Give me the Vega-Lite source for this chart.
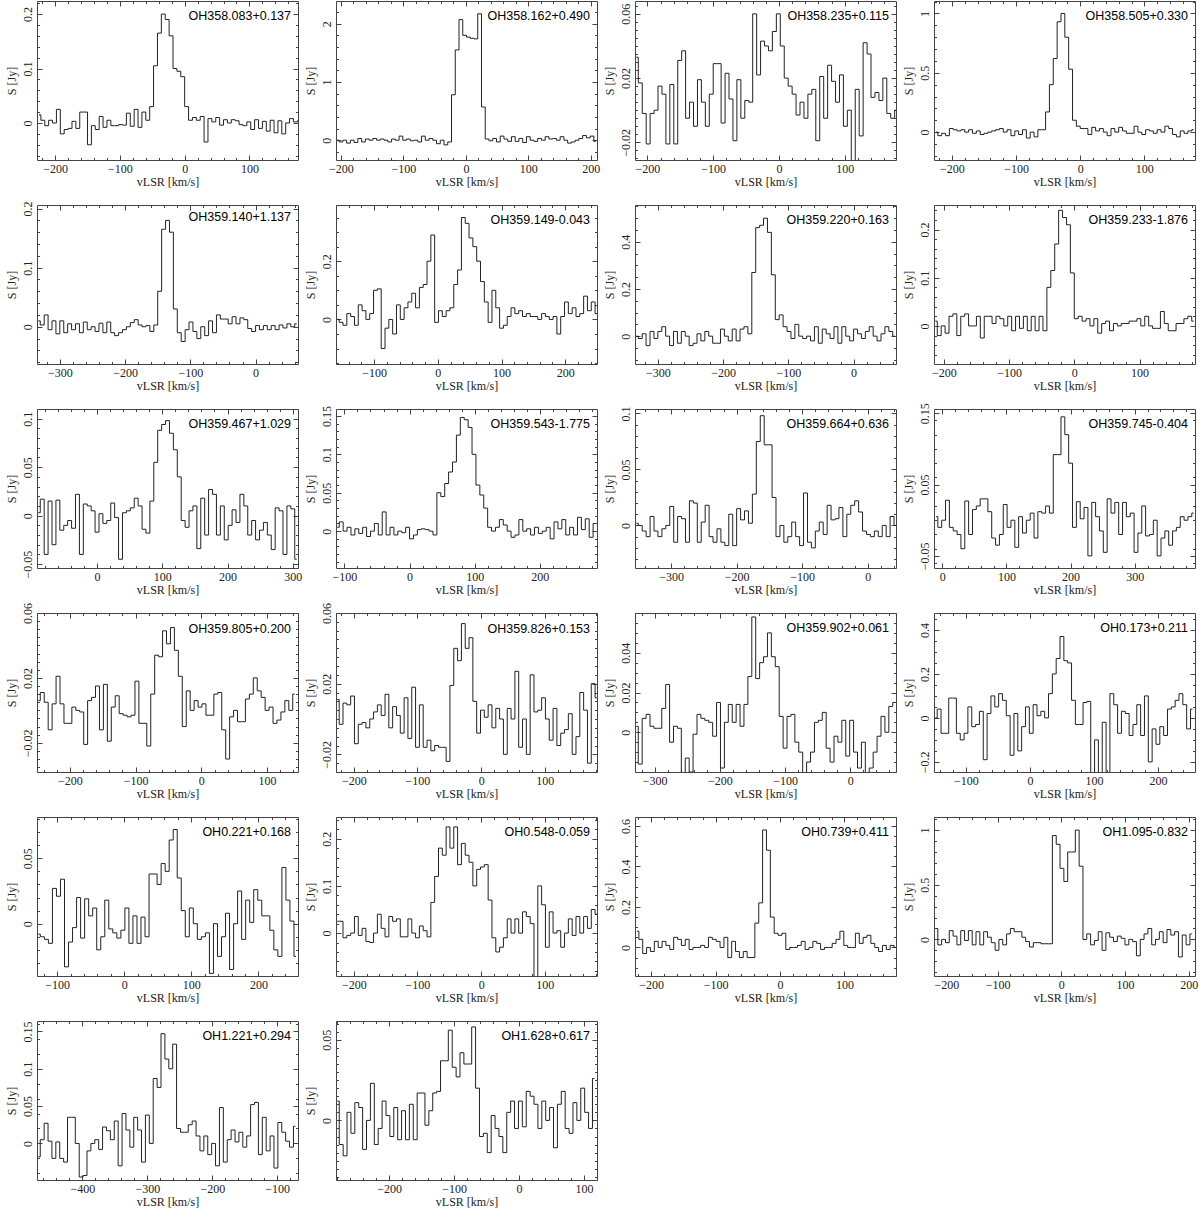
{
"$schema": "https://vega.github.io/schema/vega-lite/v6.json",
"padding": {"left": 4, "top": 0, "right": 0, "bottom": 0},
"background": "white",
"config": {
 "numberFormat": "~r",
 "view": {"stroke": "#444", "strokeWidth": 1},
 "axis": {"domain": false, "grid": false, "tickSize": -5, "tickColor": "#444", "tickCount": 4, "labelFont": "Liberation Serif", "labelFontSize": 12, "labelColor": "#222", "titleFont": "Liberation Serif", "titleFontSize": 12, "titleFontWeight": "normal", "titleColor": "#222", "labelPadding": 8},
 "axisX": {"titlePadding": 2},
 "axisY": {"labelAngle": -90, "labelAlign": "center", "labelBaseline": "bottom", "titlePadding": 3},
 "title": {"anchor": "end", "offset": -22, "dx": -7, "font": "Liberation Sans", "fontSize": 12.5, "fontWeight": "normal", "color": "#000", "frame": "group"},
 "line": {"color": "#222", "strokeWidth": 1}
},
"columns": 4,
"spacing": {"row": 45, "column": 38},
"bounds": "flush",
"datasets": {
"p1": [{"v":-225,"s":0.015},{"v":-219,"s":0.005},{"v":-213,"s":-0.005},{"v":-207,"s":0.005},{"v":-201,"s":0.0},{"v":-195,"s":0.025},{"v":-189,"s":-0.02},{"v":-183,"s":-0.012},{"v":-177,"s":-0.01},{"v":-171,"s":0.003},{"v":-165,"s":-0.01},{"v":-159,"s":0.02},{"v":-153,"s":0.02},{"v":-147,"s":-0.04},{"v":-141,"s":-0.005},{"v":-135,"s":-0.012},{"v":-129,"s":0.012},{"v":-123,"s":-0.008},{"v":-117,"s":0.005},{"v":-111,"s":-0.005},{"v":-105,"s":-0.005},{"v":-99,"s":-0.003},{"v":-93,"s":-0.004},{"v":-87,"s":0.018},{"v":-81,"s":-0.006},{"v":-75,"s":0.025},{"v":-69,"s":-0.008},{"v":-63,"s":0.02},{"v":-57,"s":0.005},{"v":-51,"s":0.03},{"v":-45,"s":0.105},{"v":-39,"s":0.165},{"v":-33,"s":0.2},{"v":-27,"s":0.19},{"v":-21,"s":0.16},{"v":-15,"s":0.1},{"v":-9,"s":0.095},{"v":-3,"s":0.085},{"v":3,"s":0.03},{"v":9,"s":0.005},{"v":15,"s":0.01},{"v":21,"s":0.005},{"v":27,"s":0.012},{"v":33,"s":-0.035},{"v":39,"s":0.008},{"v":45,"s":0.002},{"v":51,"s":0.01},{"v":57,"s":-0.004},{"v":63,"s":0.006},{"v":69,"s":0.0},{"v":75,"s":0.006},{"v":81,"s":0.004},{"v":87,"s":-0.003},{"v":93,"s":-0.005},{"v":99,"s":0.002},{"v":105,"s":-0.012},{"v":111,"s":0.006},{"v":117,"s":-0.01},{"v":123,"s":0.003},{"v":129,"s":-0.015},{"v":135,"s":0.005},{"v":141,"s":-0.018},{"v":147,"s":0.004},{"v":153,"s":-0.02},{"v":159,"s":0.0},{"v":165,"s":0.008},{"v":171,"s":0.002},{"v":177,"s":0.004}],
"p2": [{"v":-206,"s":0.0},{"v":-200,"s":-0.03},{"v":-194,"s":0.0},{"v":-188,"s":-0.05},{"v":-182,"s":0.0},{"v":-176,"s":-0.04},{"v":-170,"s":0.03},{"v":-164,"s":-0.03},{"v":-158,"s":0.02},{"v":-152,"s":0.0},{"v":-146,"s":0.03},{"v":-140,"s":0.0},{"v":-134,"s":0.02},{"v":-128,"s":0.0},{"v":-122,"s":-0.03},{"v":-116,"s":0.02},{"v":-110,"s":0.0},{"v":-104,"s":0.07},{"v":-98,"s":0.0},{"v":-92,"s":0.02},{"v":-86,"s":-0.01},{"v":-80,"s":0.0},{"v":-74,"s":-0.03},{"v":-68,"s":0.07},{"v":-62,"s":0.0},{"v":-56,"s":0.03},{"v":-50,"s":0.0},{"v":-44,"s":-0.06},{"v":-38,"s":0.0},{"v":-32,"s":-0.08},{"v":-26,"s":-0.03},{"v":-20,"s":0.78},{"v":-14,"s":1.55},{"v":-8,"s":2.07},{"v":-2,"s":1.8},{"v":4,"s":1.77},{"v":10,"s":1.75},{"v":16,"s":1.74},{"v":22,"s":2.17},{"v":28,"s":0.57},{"v":34,"s":0.02},{"v":40,"s":-0.01},{"v":46,"s":0.03},{"v":52,"s":-0.03},{"v":58,"s":0.07},{"v":64,"s":0.02},{"v":70,"s":-0.02},{"v":76,"s":0.06},{"v":82,"s":-0.02},{"v":88,"s":0.03},{"v":94,"s":-0.04},{"v":100,"s":0.06},{"v":106,"s":0.0},{"v":112,"s":-0.02},{"v":118,"s":0.03},{"v":124,"s":0.0},{"v":130,"s":0.06},{"v":136,"s":0.02},{"v":142,"s":0.03},{"v":148,"s":0.0},{"v":154,"s":0.06},{"v":160,"s":0.0},{"v":166,"s":-0.05},{"v":172,"s":-0.03},{"v":178,"s":0.0},{"v":184,"s":0.03},{"v":190,"s":0.08},{"v":196,"s":0.04},{"v":202,"s":0.07},{"v":208,"s":-0.02}],
"p3": [{"v":-217,"s":0.033},{"v":-211,"s":0.017},{"v":-205,"s":-0.002},{"v":-199,"s":-0.021},{"v":-193,"s":-0.002},{"v":-187,"s":0.0},{"v":-181,"s":0.015},{"v":-175,"s":0.01},{"v":-169,"s":-0.021},{"v":-163,"s":0.016},{"v":-157,"s":-0.021},{"v":-151,"s":0.031},{"v":-145,"s":0.037},{"v":-139,"s":-0.005},{"v":-133,"s":0.005},{"v":-127,"s":-0.01},{"v":-121,"s":0.019},{"v":-115,"s":0.005},{"v":-109,"s":-0.01},{"v":-103,"s":0.01},{"v":-97,"s":0.029},{"v":-91,"s":0.029},{"v":-85,"s":-0.008},{"v":-79,"s":0.023},{"v":-73,"s":0.007},{"v":-67,"s":-0.019},{"v":-61,"s":0.019},{"v":-55,"s":-0.005},{"v":-49,"s":0.006},{"v":-43,"s":0.005},{"v":-37,"s":0.06},{"v":-31,"s":0.022},{"v":-25,"s":0.043},{"v":-19,"s":0.04},{"v":-13,"s":0.037},{"v":-7,"s":0.049},{"v":-1,"s":0.06},{"v":5,"s":0.04},{"v":11,"s":0.02},{"v":17,"s":0.015},{"v":23,"s":0.01},{"v":29,"s":-0.003},{"v":35,"s":0.005},{"v":41,"s":-0.005},{"v":47,"s":0.01},{"v":53,"s":0.013},{"v":59,"s":-0.019},{"v":65,"s":0.021},{"v":71,"s":-0.005},{"v":77,"s":0.028},{"v":83,"s":0.018},{"v":89,"s":0.005},{"v":95,"s":0.022},{"v":101,"s":-0.01},{"v":107,"s":0.0},{"v":113,"s":-0.045},{"v":119,"s":0.013},{"v":125,"s":-0.016},{"v":131,"s":0.042},{"v":137,"s":0.035},{"v":143,"s":0.008},{"v":149,"s":0.011},{"v":155,"s":0.006},{"v":161,"s":0.02},{"v":167,"s":-0.002},{"v":173,"s":-0.005},{"v":179,"s":0.0}],
"p4": [{"v":-225,"s":0.0},{"v":-219,"s":-0.03},{"v":-213,"s":-0.01},{"v":-207,"s":-0.03},{"v":-201,"s":0.03},{"v":-195,"s":0.02},{"v":-189,"s":0.01},{"v":-183,"s":0.02},{"v":-177,"s":0.0},{"v":-171,"s":0.02},{"v":-165,"s":-0.01},{"v":-159,"s":0.01},{"v":-153,"s":-0.02},{"v":-147,"s":-0.01},{"v":-141,"s":0.0},{"v":-135,"s":0.01},{"v":-129,"s":0.02},{"v":-123,"s":0.03},{"v":-117,"s":0.0},{"v":-111,"s":0.02},{"v":-105,"s":-0.03},{"v":-99,"s":0.01},{"v":-93,"s":-0.02},{"v":-87,"s":0.02},{"v":-81,"s":-0.05},{"v":-75,"s":0.0},{"v":-69,"s":-0.04},{"v":-63,"s":0.02},{"v":-57,"s":0.02},{"v":-51,"s":0.17},{"v":-45,"s":0.4},{"v":-39,"s":0.62},{"v":-33,"s":0.93},{"v":-27,"s":1.0},{"v":-21,"s":0.8},{"v":-15,"s":0.53},{"v":-9,"s":0.1},{"v":-3,"s":0.05},{"v":3,"s":0.03},{"v":9,"s":0.03},{"v":15,"s":-0.02},{"v":21,"s":0.04},{"v":27,"s":0.01},{"v":33,"s":0.03},{"v":39,"s":0.0},{"v":45,"s":-0.03},{"v":51,"s":0.03},{"v":57,"s":0.0},{"v":63,"s":0.04},{"v":69,"s":0.01},{"v":75,"s":-0.01},{"v":81,"s":-0.01},{"v":87,"s":0.05},{"v":93,"s":0.0},{"v":99,"s":-0.02},{"v":105,"s":0.02},{"v":111,"s":0.01},{"v":117,"s":-0.01},{"v":123,"s":0.02},{"v":129,"s":0.0},{"v":135,"s":0.05},{"v":141,"s":0.03},{"v":147,"s":-0.02},{"v":153,"s":-0.04},{"v":159,"s":0.01},{"v":165,"s":-0.01},{"v":171,"s":0.01},{"v":177,"s":0.02}],
"p5": [{"v":-333,"s":0.01},{"v":-327,"s":0.003},{"v":-321,"s":0.02},{"v":-315,"s":-0.005},{"v":-309,"s":0.01},{"v":-303,"s":-0.012},{"v":-297,"s":0.01},{"v":-291,"s":-0.01},{"v":-285,"s":0.005},{"v":-279,"s":-0.005},{"v":-273,"s":0.005},{"v":-267,"s":-0.01},{"v":-261,"s":0.008},{"v":-255,"s":-0.005},{"v":-249,"s":0.0},{"v":-243,"s":-0.008},{"v":-237,"s":0.006},{"v":-231,"s":-0.01},{"v":-225,"s":0.008},{"v":-219,"s":-0.01},{"v":-213,"s":-0.015},{"v":-207,"s":-0.01},{"v":-201,"s":-0.005},{"v":-195,"s":0.0},{"v":-189,"s":0.007},{"v":-183,"s":0.012},{"v":-177,"s":0.003},{"v":-171,"s":0.0},{"v":-165,"s":0.002},{"v":-159,"s":-0.008},{"v":-153,"s":0.003},{"v":-147,"s":0.06},{"v":-141,"s":0.165},{"v":-135,"s":0.18},{"v":-129,"s":0.16},{"v":-123,"s":0.03},{"v":-117,"s":-0.01},{"v":-111,"s":-0.025},{"v":-105,"s":-0.005},{"v":-99,"s":0.008},{"v":-93,"s":-0.008},{"v":-87,"s":-0.02},{"v":-81,"s":0.0},{"v":-75,"s":-0.015},{"v":-69,"s":0.01},{"v":-63,"s":-0.01},{"v":-57,"s":0.02},{"v":-51,"s":0.013},{"v":-45,"s":0.013},{"v":-39,"s":0.005},{"v":-33,"s":0.017},{"v":-27,"s":0.005},{"v":-21,"s":0.015},{"v":-15,"s":0.012},{"v":-9,"s":-0.003},{"v":-3,"s":-0.008},{"v":3,"s":0.002},{"v":9,"s":-0.005},{"v":15,"s":0.002},{"v":21,"s":-0.005},{"v":27,"s":0.002},{"v":33,"s":-0.005},{"v":39,"s":0.003},{"v":45,"s":-0.002},{"v":51,"s":0.005},{"v":57,"s":0.0},{"v":63,"s":0.005}],
"p6": [{"v":-158,"s":0.0},{"v":-152,"s":-0.01},{"v":-146,"s":-0.02},{"v":-140,"s":0.02},{"v":-134,"s":0.01},{"v":-128,"s":-0.02},{"v":-122,"s":0.05},{"v":-116,"s":0.03},{"v":-110,"s":0.0},{"v":-104,"s":0.02},{"v":-98,"s":0.1},{"v":-92,"s":0.105},{"v":-86,"s":-0.1},{"v":-80,"s":-0.03},{"v":-74,"s":0.0},{"v":-68,"s":-0.05},{"v":-62,"s":0.05},{"v":-56,"s":0.0},{"v":-50,"s":0.04},{"v":-44,"s":0.06},{"v":-38,"s":0.09},{"v":-32,"s":0.04},{"v":-26,"s":0.11},{"v":-20,"s":0.12},{"v":-14,"s":0.2},{"v":-8,"s":0.29},{"v":-2,"s":-0.01},{"v":4,"s":0.03},{"v":10,"s":0.01},{"v":16,"s":0.03},{"v":22,"s":0.04},{"v":28,"s":0.12},{"v":34,"s":0.17},{"v":40,"s":0.35},{"v":46,"s":0.33},{"v":52,"s":0.28},{"v":58,"s":0.25},{"v":64,"s":0.2},{"v":70,"s":0.13},{"v":76,"s":0.06},{"v":82,"s":-0.01},{"v":88,"s":0.1},{"v":94,"s":0.04},{"v":100,"s":-0.03},{"v":106,"s":-0.02},{"v":112,"s":0.01},{"v":118,"s":0.04},{"v":124,"s":0.02},{"v":130,"s":0.03},{"v":136,"s":0.01},{"v":142,"s":0.02},{"v":148,"s":0.01},{"v":154,"s":0.01},{"v":160,"s":0.0},{"v":166,"s":0.02},{"v":172,"s":0.01},{"v":178,"s":0.0},{"v":184,"s":0.01},{"v":190,"s":-0.05},{"v":196,"s":0.01},{"v":202,"s":0.06},{"v":208,"s":0.02},{"v":214,"s":0.04},{"v":220,"s":0.01},{"v":226,"s":0.02},{"v":232,"s":0.08},{"v":238,"s":0.03},{"v":244,"s":0.06},{"v":250,"s":0.02}],
"p7": [{"v":-333,"s":0.0},{"v":-327,"s":-0.01},{"v":-321,"s":0.01},{"v":-315,"s":-0.04},{"v":-309,"s":0.02},{"v":-303,"s":-0.01},{"v":-297,"s":0.02},{"v":-291,"s":0.04},{"v":-285,"s":0.0},{"v":-279,"s":-0.04},{"v":-273,"s":0.02},{"v":-267,"s":-0.03},{"v":-261,"s":0.02},{"v":-255,"s":0.0},{"v":-249,"s":-0.04},{"v":-243,"s":-0.03},{"v":-237,"s":0.01},{"v":-231,"s":-0.02},{"v":-225,"s":0.02},{"v":-219,"s":0.0},{"v":-213,"s":-0.03},{"v":-207,"s":-0.03},{"v":-201,"s":0.03},{"v":-195,"s":0.0},{"v":-189,"s":-0.02},{"v":-183,"s":0.03},{"v":-177,"s":-0.02},{"v":-171,"s":0.03},{"v":-165,"s":0.04},{"v":-159,"s":0.01},{"v":-153,"s":0.27},{"v":-147,"s":0.46},{"v":-141,"s":0.47},{"v":-135,"s":0.5},{"v":-129,"s":0.44},{"v":-123,"s":0.26},{"v":-117,"s":0.07},{"v":-111,"s":0.09},{"v":-105,"s":0.04},{"v":-99,"s":0.02},{"v":-93,"s":-0.01},{"v":-87,"s":0.05},{"v":-81,"s":0.0},{"v":-75,"s":-0.01},{"v":-69,"s":0.0},{"v":-63,"s":-0.02},{"v":-57,"s":0.04},{"v":-51,"s":-0.03},{"v":-45,"s":0.03},{"v":-39,"s":0.01},{"v":-33,"s":-0.01},{"v":-27,"s":0.04},{"v":-21,"s":-0.03},{"v":-15,"s":0.04},{"v":-9,"s":0.0},{"v":-3,"s":-0.02},{"v":3,"s":0.03},{"v":9,"s":0.01},{"v":15,"s":-0.01},{"v":21,"s":0.02},{"v":27,"s":0.04},{"v":33,"s":0.0},{"v":39,"s":-0.02},{"v":45,"s":0.01},{"v":51,"s":0.04},{"v":57,"s":0.02},{"v":63,"s":0.0}],
"p8": [{"v":-213,"s":0.01},{"v":-207,"s":-0.02},{"v":-201,"s":0.0},{"v":-195,"s":-0.015},{"v":-189,"s":0.02},{"v":-183,"s":0.025},{"v":-177,"s":-0.02},{"v":-171,"s":0.02},{"v":-165,"s":0.025},{"v":-159,"s":0.0},{"v":-153,"s":0.0},{"v":-147,"s":0.02},{"v":-141,"s":-0.025},{"v":-135,"s":0.02},{"v":-129,"s":0.02},{"v":-123,"s":0.005},{"v":-117,"s":0.02},{"v":-111,"s":0.015},{"v":-105,"s":0.0},{"v":-99,"s":0.02},{"v":-93,"s":-0.01},{"v":-87,"s":0.02},{"v":-81,"s":-0.005},{"v":-75,"s":0.02},{"v":-69,"s":-0.01},{"v":-63,"s":0.02},{"v":-57,"s":-0.01},{"v":-51,"s":0.02},{"v":-45,"s":-0.01},{"v":-39,"s":0.08},{"v":-33,"s":0.115},{"v":-27,"s":0.17},{"v":-21,"s":0.24},{"v":-15,"s":0.225},{"v":-9,"s":0.21},{"v":-3,"s":0.11},{"v":3,"s":0.015},{"v":9,"s":0.02},{"v":15,"s":0.01},{"v":21,"s":0.015},{"v":27,"s":0.0},{"v":33,"s":0.015},{"v":39,"s":-0.015},{"v":45,"s":0.005},{"v":51,"s":0.01},{"v":57,"s":-0.01},{"v":63,"s":0.005},{"v":69,"s":0.0},{"v":75,"s":0.005},{"v":81,"s":0.005},{"v":87,"s":0.01},{"v":93,"s":0.01},{"v":99,"s":0.015},{"v":105,"s":0.0},{"v":111,"s":0.02},{"v":117,"s":0.0},{"v":123,"s":-0.005},{"v":129,"s":-0.005},{"v":135,"s":0.03},{"v":141,"s":0.005},{"v":147,"s":-0.01},{"v":153,"s":-0.01},{"v":159,"s":0.005},{"v":165,"s":0.005},{"v":171,"s":0.015},{"v":177,"s":0.02},{"v":183,"s":0.01}],
"p9": [{"v":-90,"s":0.003},{"v":-84,"s":0.017},{"v":-78,"s":-0.04},{"v":-72,"s":0.015},{"v":-66,"s":-0.03},{"v":-60,"s":0.016},{"v":-54,"s":-0.015},{"v":-48,"s":-0.01},{"v":-42,"s":-0.005},{"v":-36,"s":-0.013},{"v":-30,"s":0.022},{"v":-24,"s":-0.04},{"v":-18,"s":0.012},{"v":-12,"s":0.01},{"v":-6,"s":0.005},{"v":0,"s":-0.017},{"v":6,"s":0.002},{"v":12,"s":-0.008},{"v":18,"s":-0.005},{"v":24,"s":0.013},{"v":30,"s":-0.002},{"v":36,"s":-0.045},{"v":42,"s":0.003},{"v":48,"s":0.005},{"v":54,"s":0.008},{"v":60,"s":0.018},{"v":66,"s":0.01},{"v":72,"s":-0.014},{"v":78,"s":-0.018},{"v":84,"s":0.015},{"v":90,"s":0.055},{"v":96,"s":0.088},{"v":102,"s":0.094},{"v":108,"s":0.098},{"v":114,"s":0.085},{"v":120,"s":0.068},{"v":126,"s":0.04},{"v":132,"s":-0.005},{"v":138,"s":-0.012},{"v":144,"s":0.005},{"v":150,"s":0.01},{"v":156,"s":-0.034},{"v":162,"s":0.018},{"v":168,"s":-0.02},{"v":174,"s":0.027},{"v":180,"s":0.022},{"v":186,"s":-0.02},{"v":192,"s":0.01},{"v":198,"s":-0.025},{"v":204,"s":-0.01},{"v":210,"s":0.006},{"v":216,"s":-0.007},{"v":222,"s":0.022},{"v":228,"s":0.01},{"v":234,"s":-0.02},{"v":240,"s":-0.005},{"v":246,"s":-0.025},{"v":252,"s":-0.015},{"v":258,"s":-0.007},{"v":264,"s":-0.02},{"v":270,"s":-0.035},{"v":276,"s":0.008},{"v":282,"s":0.005},{"v":288,"s":-0.04},{"v":294,"s":0.01},{"v":300,"s":0.007},{"v":306,"s":-0.045}],
"p10": [{"v":-111,"s":0.005},{"v":-105,"s":0.012},{"v":-99,"s":0.0},{"v":-93,"s":0.005},{"v":-87,"s":-0.005},{"v":-81,"s":0.003},{"v":-75,"s":-0.003},{"v":-69,"s":0.005},{"v":-63,"s":-0.007},{"v":-57,"s":0.0},{"v":-51,"s":0.01},{"v":-45,"s":-0.005},{"v":-39,"s":0.025},{"v":-33,"s":-0.005},{"v":-27,"s":0.005},{"v":-21,"s":-0.005},{"v":-15,"s":0.0},{"v":-9,"s":-0.002},{"v":-3,"s":0.005},{"v":3,"s":-0.01},{"v":9,"s":-0.005},{"v":15,"s":0.002},{"v":21,"s":0.003},{"v":27,"s":0.002},{"v":33,"s":0.0},{"v":39,"s":-0.005},{"v":45,"s":0.05},{"v":51,"s":0.045},{"v":57,"s":0.062},{"v":63,"s":0.077},{"v":69,"s":0.09},{"v":75,"s":0.125},{"v":81,"s":0.148},{"v":87,"s":0.145},{"v":93,"s":0.135},{"v":99,"s":0.1},{"v":105,"s":0.06},{"v":111,"s":0.047},{"v":117,"s":0.03},{"v":123,"s":0.005},{"v":129,"s":0.0},{"v":135,"s":0.005},{"v":141,"s":0.015},{"v":147,"s":0.008},{"v":153,"s":0.0},{"v":159,"s":-0.008},{"v":165,"s":-0.005},{"v":171,"s":0.015},{"v":177,"s":0.0},{"v":183,"s":0.003},{"v":189,"s":-0.005},{"v":195,"s":0.005},{"v":201,"s":-0.003},{"v":207,"s":0.0},{"v":213,"s":0.005},{"v":219,"s":-0.01},{"v":225,"s":0.012},{"v":231,"s":0.003},{"v":237,"s":0.015},{"v":243,"s":-0.005},{"v":249,"s":0.005},{"v":255,"s":-0.005},{"v":261,"s":0.018},{"v":267,"s":0.002},{"v":273,"s":0.016},{"v":279,"s":-0.008},{"v":285,"s":0.01}],
"p11": [{"v":-353,"s":0.002},{"v":-347,"s":0.0},{"v":-341,"s":-0.005},{"v":-335,"s":-0.01},{"v":-329,"s":0.008},{"v":-323,"s":-0.005},{"v":-317,"s":-0.01},{"v":-311,"s":-0.003},{"v":-305,"s":0.0},{"v":-299,"s":0.017},{"v":-293,"s":-0.015},{"v":-287,"s":0.008},{"v":-281,"s":0.006},{"v":-275,"s":-0.015},{"v":-269,"s":0.022},{"v":-263,"s":0.02},{"v":-257,"s":-0.015},{"v":-251,"s":0.003},{"v":-245,"s":0.018},{"v":-239,"s":-0.01},{"v":-233,"s":-0.015},{"v":-227,"s":-0.003},{"v":-221,"s":-0.015},{"v":-215,"s":-0.018},{"v":-209,"s":0.01},{"v":-203,"s":-0.018},{"v":-197,"s":0.015},{"v":-191,"s":0.005},{"v":-185,"s":0.013},{"v":-179,"s":0.002},{"v":-173,"s":0.028},{"v":-167,"s":0.075},{"v":-161,"s":0.098},{"v":-155,"s":0.072},{"v":-149,"s":0.072},{"v":-143,"s":0.025},{"v":-137,"s":-0.01},{"v":-131,"s":0.0},{"v":-125,"s":-0.015},{"v":-119,"s":-0.01},{"v":-113,"s":0.003},{"v":-107,"s":-0.01},{"v":-101,"s":-0.018},{"v":-95,"s":0.029},{"v":-89,"s":-0.015},{"v":-83,"s":-0.02},{"v":-77,"s":-0.005},{"v":-71,"s":0.003},{"v":-65,"s":-0.008},{"v":-59,"s":0.018},{"v":-53,"s":0.005},{"v":-47,"s":0.006},{"v":-41,"s":0.016},{"v":-35,"s":-0.01},{"v":-29,"s":0.01},{"v":-23,"s":0.018},{"v":-17,"s":0.022},{"v":-11,"s":0.012},{"v":-5,"s":-0.005},{"v":1,"s":-0.008},{"v":7,"s":-0.01},{"v":13,"s":-0.005},{"v":19,"s":-0.01},{"v":25,"s":0.0},{"v":31,"s":-0.01},{"v":37,"s":0.008},{"v":43,"s":0.0}],
"p12": [{"v":-10,"s":0.005},{"v":-4,"s":-0.01},{"v":2,"s":0.0},{"v":8,"s":0.028},{"v":14,"s":-0.01},{"v":20,"s":-0.015},{"v":26,"s":-0.02},{"v":32,"s":-0.04},{"v":38,"s":0.027},{"v":44,"s":-0.02},{"v":50,"s":0.015},{"v":56,"s":0.02},{"v":62,"s":0.03},{"v":68,"s":0.03},{"v":74,"s":0.012},{"v":80,"s":-0.025},{"v":86,"s":-0.035},{"v":92,"s":-0.02},{"v":98,"s":0.022},{"v":104,"s":-0.01},{"v":110,"s":0.0},{"v":116,"s":-0.038},{"v":122,"s":0.005},{"v":128,"s":-0.018},{"v":134,"s":0.0},{"v":140,"s":0.01},{"v":146,"s":-0.025},{"v":152,"s":0.012},{"v":158,"s":0.01},{"v":164,"s":0.02},{"v":170,"s":0.01},{"v":176,"s":0.092},{"v":182,"s":0.092},{"v":188,"s":0.145},{"v":194,"s":0.12},{"v":200,"s":0.08},{"v":206,"s":-0.01},{"v":212,"s":0.026},{"v":218,"s":0.002},{"v":224,"s":0.018},{"v":230,"s":-0.05},{"v":236,"s":0.025},{"v":242,"s":0.005},{"v":248,"s":-0.015},{"v":254,"s":-0.045},{"v":260,"s":0.03},{"v":266,"s":0.01},{"v":272,"s":0.025},{"v":278,"s":-0.02},{"v":284,"s":0.025},{"v":290,"s":0.005},{"v":296,"s":0.01},{"v":302,"s":-0.045},{"v":308,"s":-0.018},{"v":314,"s":0.02},{"v":320,"s":-0.022},{"v":326,"s":-0.02},{"v":332,"s":0.0},{"v":338,"s":-0.05},{"v":344,"s":-0.025},{"v":350,"s":-0.015},{"v":356,"s":-0.035},{"v":362,"s":-0.015},{"v":368,"s":-0.01},{"v":374,"s":0.005},{"v":380,"s":0.0},{"v":386,"s":0.005},{"v":392,"s":0.01}],
"p13": [{"v":-248,"s":0.006},{"v":-242,"s":0.011},{"v":-236,"s":0.005},{"v":-230,"s":-0.012},{"v":-224,"s":0.004},{"v":-218,"s":0.021},{"v":-212,"s":0.004},{"v":-206,"s":-0.008},{"v":-200,"s":-0.008},{"v":-194,"s":0.002},{"v":-188,"s":0.0},{"v":-182,"s":-0.001},{"v":-176,"s":-0.021},{"v":-170,"s":0.006},{"v":-164,"s":0.008},{"v":-158,"s":0.015},{"v":-152,"s":-0.012},{"v":-146,"s":0.016},{"v":-140,"s":-0.019},{"v":-134,"s":0.002},{"v":-128,"s":0.009},{"v":-122,"s":-0.002},{"v":-116,"s":-0.003},{"v":-110,"s":-0.004},{"v":-104,"s":-0.003},{"v":-98,"s":0.018},{"v":-92,"s":-0.008},{"v":-86,"s":-0.008},{"v":-80,"s":-0.022},{"v":-74,"s":0.01},{"v":-68,"s":0.034},{"v":-62,"s":0.033},{"v":-56,"s":0.049},{"v":-50,"s":0.041},{"v":-44,"s":0.051},{"v":-38,"s":0.037},{"v":-32,"s":0.021},{"v":-26,"s":-0.01},{"v":-20,"s":0.012},{"v":-14,"s":0.0},{"v":-8,"s":0.006},{"v":-2,"s":0.002},{"v":4,"s":0.004},{"v":10,"s":-0.003},{"v":16,"s":-0.003},{"v":22,"s":0.01},{"v":28,"s":0.011},{"v":34,"s":-0.012},{"v":40,"s":-0.03},{"v":46,"s":-0.004},{"v":52,"s":0.0},{"v":58,"s":-0.007},{"v":64,"s":-0.007},{"v":70,"s":0.007},{"v":76,"s":0.01},{"v":82,"s":0.02},{"v":88,"s":0.012},{"v":94,"s":0.008},{"v":100,"s":0.0},{"v":106,"s":0.002},{"v":112,"s":-0.008},{"v":118,"s":-0.006},{"v":124,"s":-0.001},{"v":130,"s":0.006},{"v":136,"s":0.0},{"v":142,"s":0.01}],
"p14": [{"v":-226,"s":0.011},{"v":-220,"s":-0.003},{"v":-214,"s":0.009},{"v":-208,"s":0.008},{"v":-202,"s":0.013},{"v":-196,"s":-0.014},{"v":-190,"s":-0.003},{"v":-184,"s":-0.002},{"v":-178,"s":-0.005},{"v":-172,"s":0.0},{"v":-166,"s":0.004},{"v":-160,"s":0.008},{"v":-154,"s":0.002},{"v":-148,"s":0.014},{"v":-142,"s":-0.005},{"v":-136,"s":0.007},{"v":-130,"s":0.002},{"v":-124,"s":-0.008},{"v":-118,"s":0.012},{"v":-112,"s":-0.011},{"v":-106,"s":0.018},{"v":-100,"s":-0.016},{"v":-94,"s":0.008},{"v":-88,"s":-0.016},{"v":-82,"s":-0.012},{"v":-76,"s":-0.018},{"v":-70,"s":-0.015},{"v":-64,"s":-0.016},{"v":-58,"s":-0.016},{"v":-52,"s":-0.024},{"v":-46,"s":0.019},{"v":-40,"s":0.04},{"v":-34,"s":0.033},{"v":-28,"s":0.054},{"v":-22,"s":0.04},{"v":-16,"s":0.046},{"v":-10,"s":0.01},{"v":-4,"s":-0.008},{"v":2,"s":0.005},{"v":8,"s":0.001},{"v":14,"s":0.008},{"v":20,"s":-0.005},{"v":26,"s":0.006},{"v":32,"s":0.0},{"v":38,"s":-0.02},{"v":44,"s":0.006},{"v":50,"s":0.0},{"v":56,"s":0.027},{"v":62,"s":-0.016},{"v":68,"s":0.0},{"v":74,"s":-0.02},{"v":80,"s":0.025},{"v":86,"s":0.004},{"v":92,"s":0.005},{"v":98,"s":0.012},{"v":104,"s":0.0},{"v":110,"s":-0.012},{"v":116,"s":0.006},{"v":122,"s":-0.015},{"v":128,"s":-0.008},{"v":134,"s":-0.006},{"v":140,"s":0.003},{"v":146,"s":-0.02},{"v":152,"s":-0.01},{"v":158,"s":0.015},{"v":164,"s":0.005},{"v":170,"s":-0.025},{"v":176,"s":0.02},{"v":182,"s":0.012}],
"p15": [{"v":-328,"s":0.003},{"v":-322,"s":-0.016},{"v":-316,"s":0.007},{"v":-310,"s":0.009},{"v":-304,"s":0.003},{"v":-298,"s":0.002},{"v":-292,"s":0.002},{"v":-286,"s":0.012},{"v":-280,"s":0.024},{"v":-274,"s":-0.005},{"v":-268,"s":0.003},{"v":-262,"s":0.002},{"v":-256,"s":-0.025},{"v":-250,"s":-0.013},{"v":-244,"s":-0.02},{"v":-238,"s":-0.001},{"v":-232,"s":0.009},{"v":-226,"s":0.007},{"v":-220,"s":0.006},{"v":-214,"s":0.005},{"v":-208,"s":-0.002},{"v":-202,"s":0.015},{"v":-196,"s":-0.018},{"v":-190,"s":0.005},{"v":-184,"s":0.014},{"v":-178,"s":0.005},{"v":-172,"s":0.014},{"v":-166,"s":0.003},{"v":-160,"s":0.014},{"v":-154,"s":0.028},{"v":-148,"s":0.058},{"v":-142,"s":0.027},{"v":-136,"s":0.035},{"v":-130,"s":0.038},{"v":-124,"s":0.05},{"v":-118,"s":0.038},{"v":-112,"s":0.033},{"v":-106,"s":0.008},{"v":-100,"s":-0.008},{"v":-94,"s":0.008},{"v":-88,"s":0.009},{"v":-82,"s":-0.005},{"v":-76,"s":-0.01},{"v":-70,"s":-0.03},{"v":-64,"s":-0.015},{"v":-58,"s":-0.01},{"v":-52,"s":0.005},{"v":-46,"s":0.006},{"v":-40,"s":0.01},{"v":-34,"s":-0.008},{"v":-28,"s":-0.015},{"v":-22,"s":-0.002},{"v":-16,"s":-0.005},{"v":-10,"s":0.006},{"v":-4,"s":-0.012},{"v":2,"s":0.006},{"v":8,"s":-0.01},{"v":14,"s":-0.018},{"v":20,"s":-0.005},{"v":26,"s":-0.03},{"v":32,"s":-0.018},{"v":38,"s":-0.01},{"v":44,"s":-0.002},{"v":50,"s":0.008},{"v":56,"s":0.0},{"v":62,"s":0.013},{"v":68,"s":0.015}],
"p16": [{"v":-148,"s":0.0},{"v":-142,"s":0.04},{"v":-136,"s":-0.07},{"v":-130,"s":-0.07},{"v":-124,"s":0.09},{"v":-118,"s":0.09},{"v":-112,"s":-0.07},{"v":-106,"s":-0.1},{"v":-100,"s":-0.07},{"v":-94,"s":0.05},{"v":-88,"s":-0.04},{"v":-82,"s":-0.03},{"v":-76,"s":0.03},{"v":-70,"s":-0.19},{"v":-64,"s":0.02},{"v":-58,"s":0.1},{"v":-52,"s":0.05},{"v":-46,"s":0.11},{"v":-40,"s":0.08},{"v":-34,"s":0.01},{"v":-28,"s":-0.17},{"v":-22,"s":0.02},{"v":-16,"s":-0.15},{"v":-10,"s":-0.04},{"v":-4,"s":0.05},{"v":2,"s":-0.07},{"v":8,"s":0.06},{"v":14,"s":0.01},{"v":20,"s":0.03},{"v":26,"s":0.0},{"v":32,"s":0.11},{"v":38,"s":0.2},{"v":44,"s":0.27},{"v":50,"s":0.37},{"v":56,"s":0.26},{"v":62,"s":0.25},{"v":68,"s":0.08},{"v":74,"s":-0.03},{"v":80,"s":-0.03},{"v":86,"s":0.07},{"v":92,"s":0.075},{"v":98,"s":-0.3},{"v":104,"s":-0.1},{"v":110,"s":-0.3},{"v":116,"s":-0.02},{"v":122,"s":-0.3},{"v":128,"s":0.11},{"v":134,"s":0.06},{"v":140,"s":-0.07},{"v":146,"s":0.03},{"v":152,"s":0.02},{"v":158,"s":-0.08},{"v":164,"s":-0.03},{"v":170,"s":0.06},{"v":176,"s":-0.08},{"v":182,"s":0.1},{"v":188,"s":-0.2},{"v":194,"s":-0.05},{"v":200,"s":-0.12},{"v":206,"s":-0.04},{"v":212,"s":-0.08},{"v":218,"s":0.04},{"v":224,"s":0.05},{"v":230,"s":0.08},{"v":236,"s":0.11},{"v":242,"s":0.06},{"v":248,"s":-0.05},{"v":254,"s":0.04}],
"p17": [{"v":-128,"s":-0.008},{"v":-122,"s":-0.01},{"v":-116,"s":-0.012},{"v":-110,"s":-0.015},{"v":-104,"s":0.027},{"v":-98,"s":0.021},{"v":-92,"s":0.034},{"v":-86,"s":-0.033},{"v":-80,"s":-0.014},{"v":-74,"s":-0.003},{"v":-68,"s":0.02},{"v":-62,"s":-0.011},{"v":-56,"s":0.019},{"v":-50,"s":0.006},{"v":-44,"s":0.012},{"v":-38,"s":-0.02},{"v":-32,"s":-0.01},{"v":-26,"s":0.018},{"v":-20,"s":-0.004},{"v":-14,"s":-0.007},{"v":-8,"s":-0.011},{"v":-2,"s":-0.005},{"v":4,"s":0.012},{"v":10,"s":-0.015},{"v":16,"s":0.006},{"v":22,"s":-0.015},{"v":28,"s":0.005},{"v":34,"s":-0.01},{"v":40,"s":0.038},{"v":46,"s":0.038},{"v":52,"s":0.03},{"v":58,"s":0.046},{"v":64,"s":0.04},{"v":70,"s":0.064},{"v":76,"s":0.072},{"v":82,"s":0.035},{"v":88,"s":0.01},{"v":94,"s":-0.01},{"v":100,"s":0.012},{"v":106,"s":0.0},{"v":112,"s":-0.012},{"v":118,"s":-0.01},{"v":124,"s":-0.007},{"v":130,"s":-0.038},{"v":136,"s":0.0},{"v":142,"s":-0.025},{"v":148,"s":-0.01},{"v":154,"s":0.008},{"v":160,"s":-0.035},{"v":166,"s":0.0},{"v":172,"s":0.025},{"v":178,"s":-0.012},{"v":184,"s":0.018},{"v":190,"s":0.001},{"v":196,"s":0.026},{"v":202,"s":0.018},{"v":208,"s":0.006},{"v":214,"s":0.006},{"v":220,"s":-0.005},{"v":226,"s":-0.02},{"v":232,"s":-0.025},{"v":238,"s":0.043},{"v":244,"s":0.018},{"v":250,"s":0.002},{"v":256,"s":-0.025}],
"p18": [{"v":-226,"s":0.025},{"v":-220,"s":0.025},{"v":-214,"s":-0.01},{"v":-208,"s":-0.005},{"v":-202,"s":0.0},{"v":-196,"s":0.035},{"v":-190,"s":-0.005},{"v":-184,"s":0.01},{"v":-178,"s":-0.018},{"v":-172,"s":-0.02},{"v":-166,"s":0.0},{"v":-160,"s":0.04},{"v":-154,"s":0.01},{"v":-148,"s":-0.008},{"v":-142,"s":0.035},{"v":-136,"s":0.025},{"v":-130,"s":0.03},{"v":-124,"s":-0.008},{"v":-118,"s":-0.008},{"v":-112,"s":0.03},{"v":-106,"s":0.0},{"v":-100,"s":-0.01},{"v":-94,"s":0.015},{"v":-88,"s":0.005},{"v":-82,"s":-0.008},{"v":-76,"s":0.065},{"v":-70,"s":0.12},{"v":-64,"s":0.18},{"v":-58,"s":0.165},{"v":-52,"s":0.225},{"v":-46,"s":0.18},{"v":-40,"s":0.225},{"v":-34,"s":0.145},{"v":-28,"s":0.19},{"v":-22,"s":0.165},{"v":-16,"s":0.15},{"v":-10,"s":0.1},{"v":-4,"s":0.135},{"v":2,"s":0.14},{"v":8,"s":0.145},{"v":14,"s":0.07},{"v":20,"s":-0.01},{"v":26,"s":-0.04},{"v":32,"s":-0.03},{"v":38,"s":-0.01},{"v":44,"s":0.03},{"v":50,"s":0.0},{"v":56,"s":0.03},{"v":62,"s":0.0},{"v":68,"s":0.045},{"v":74,"s":0.035},{"v":80,"s":0.02},{"v":86,"s":-0.12},{"v":92,"s":0.1},{"v":98,"s":0.06},{"v":104,"s":-0.03},{"v":110,"s":0.045},{"v":116,"s":0.0},{"v":122,"s":0.005},{"v":128,"s":-0.03},{"v":134,"s":0.0},{"v":140,"s":0.03},{"v":146,"s":-0.005},{"v":152,"s":0.035},{"v":158,"s":0.0},{"v":164,"s":0.035},{"v":170,"s":0.01},{"v":176,"s":0.05},{"v":182,"s":0.04}],
"p19": [{"v":-222,"s":0.08},{"v":-216,"s":0.04},{"v":-210,"s":-0.03},{"v":-204,"s":0.0},{"v":-198,"s":-0.02},{"v":-192,"s":0.03},{"v":-186,"s":0.0},{"v":-180,"s":0.03},{"v":-174,"s":0.01},{"v":-168,"s":-0.01},{"v":-162,"s":0.05},{"v":-156,"s":0.04},{"v":-150,"s":0.01},{"v":-144,"s":0.04},{"v":-138,"s":-0.01},{"v":-132,"s":0.0},{"v":-126,"s":0.0},{"v":-120,"s":0.01},{"v":-114,"s":0.0},{"v":-108,"s":0.05},{"v":-102,"s":0.04},{"v":-96,"s":0.03},{"v":-90,"s":0.0},{"v":-84,"s":0.05},{"v":-78,"s":-0.05},{"v":-72,"s":0.03},{"v":-66,"s":-0.02},{"v":-60,"s":-0.05},{"v":-54,"s":-0.02},{"v":-48,"s":-0.05},{"v":-42,"s":-0.05},{"v":-36,"s":0.12},{"v":-30,"s":0.22},{"v":-24,"s":0.58},{"v":-18,"s":0.48},{"v":-12,"s":0.15},{"v":-6,"s":0.07},{"v":0,"s":0.06},{"v":6,"s":0.07},{"v":12,"s":-0.01},{"v":18,"s":0.0},{"v":24,"s":0.0},{"v":30,"s":0.01},{"v":36,"s":0.03},{"v":42,"s":-0.01},{"v":48,"s":0.0},{"v":54,"s":0.03},{"v":60,"s":0.02},{"v":66,"s":-0.01},{"v":72,"s":0.0},{"v":78,"s":0.0},{"v":84,"s":0.02},{"v":90,"s":0.04},{"v":96,"s":0.08},{"v":102,"s":0.01},{"v":108,"s":0.0},{"v":114,"s":0.0},{"v":120,"s":0.07},{"v":126,"s":0.02},{"v":132,"s":0.05},{"v":138,"s":0.06},{"v":144,"s":0.02},{"v":150,"s":0.0},{"v":156,"s":-0.02},{"v":162,"s":0.01},{"v":168,"s":-0.01},{"v":174,"s":0.01},{"v":180,"s":0.0}],
"p20": [{"v":-197,"s":0.1},{"v":-191,"s":-0.05},{"v":-185,"s":0.0},{"v":-179,"s":-0.03},{"v":-173,"s":0.08},{"v":-167,"s":0.03},{"v":-161,"s":-0.05},{"v":-155,"s":0.08},{"v":-149,"s":-0.01},{"v":-143,"s":0.08},{"v":-137,"s":-0.05},{"v":-131,"s":0.07},{"v":-125,"s":-0.05},{"v":-119,"s":0.07},{"v":-113,"s":0.02},{"v":-107,"s":-0.03},{"v":-101,"s":-0.1},{"v":-95,"s":0.0},{"v":-89,"s":-0.05},{"v":-83,"s":0.05},{"v":-77,"s":0.1},{"v":-71,"s":0.07},{"v":-65,"s":0.07},{"v":-59,"s":0.02},{"v":-53,"s":-0.02},{"v":-47,"s":-0.07},{"v":-41,"s":-0.03},{"v":-35,"s":-0.03},{"v":-29,"s":-0.04},{"v":-23,"s":-0.04},{"v":-17,"s":-0.04},{"v":-11,"s":0.95},{"v":-5,"s":0.87},{"v":1,"s":0.65},{"v":7,"s":0.53},{"v":13,"s":0.8},{"v":19,"s":0.8},{"v":25,"s":1.0},{"v":31,"s":0.67},{"v":37,"s":0.0},{"v":43,"s":0.05},{"v":49,"s":-0.05},{"v":55,"s":-0.01},{"v":61,"s":0.07},{"v":67,"s":-0.1},{"v":73,"s":0.06},{"v":79,"s":0.02},{"v":85,"s":-0.02},{"v":91,"s":0.03},{"v":97,"s":0.01},{"v":103,"s":-0.05},{"v":109,"s":0.0},{"v":115,"s":-0.02},{"v":121,"s":-0.15},{"v":127,"s":0.0},{"v":133,"s":0.05},{"v":139,"s":0.1},{"v":145,"s":-0.05},{"v":151,"s":0.0},{"v":157,"s":0.07},{"v":163,"s":-0.03},{"v":169,"s":0.09},{"v":175,"s":0.04},{"v":181,"s":0.07},{"v":187,"s":-0.16},{"v":193,"s":0.04},{"v":199,"s":-0.05},{"v":205,"s":0.05}],
"p21": [{"v":-468,"s":-0.018},{"v":-462,"s":0.005},{"v":-456,"s":0.027},{"v":-450,"s":0.003},{"v":-444,"s":-0.02},{"v":-438,"s":0.002},{"v":-432,"s":-0.02},{"v":-426,"s":-0.025},{"v":-420,"s":0.035},{"v":-414,"s":0.035},{"v":-408,"s":0.0},{"v":-402,"s":-0.045},{"v":-396,"s":-0.043},{"v":-390,"s":-0.01},{"v":-384,"s":0.0},{"v":-378,"s":0.005},{"v":-372,"s":-0.008},{"v":-366,"s":0.022},{"v":-360,"s":0.017},{"v":-354,"s":0.005},{"v":-348,"s":0.03},{"v":-342,"s":-0.03},{"v":-336,"s":0.04},{"v":-330,"s":0.018},{"v":-324,"s":-0.005},{"v":-318,"s":0.035},{"v":-312,"s":0.018},{"v":-306,"s":-0.025},{"v":-300,"s":0.038},{"v":-294,"s":0.0},{"v":-288,"s":0.087},{"v":-282,"s":0.075},{"v":-276,"s":0.147},{"v":-270,"s":0.113},{"v":-264,"s":0.1},{"v":-258,"s":0.133},{"v":-252,"s":0.02},{"v":-246,"s":0.015},{"v":-240,"s":0.015},{"v":-234,"s":0.025},{"v":-228,"s":0.03},{"v":-222,"s":0.01},{"v":-216,"s":-0.01},{"v":-210,"s":0.01},{"v":-204,"s":-0.015},{"v":-198,"s":0.0},{"v":-192,"s":-0.03},{"v":-186,"s":0.048},{"v":-180,"s":-0.025},{"v":-174,"s":0.005},{"v":-168,"s":0.018},{"v":-162,"s":0.002},{"v":-156,"s":0.015},{"v":-150,"s":-0.005},{"v":-144,"s":0.01},{"v":-138,"s":0.052},{"v":-132,"s":0.055},{"v":-126,"s":-0.015},{"v":-120,"s":0.035},{"v":-114,"s":-0.01},{"v":-108,"s":0.01},{"v":-102,"s":-0.033},{"v":-96,"s":0.028},{"v":-90,"s":0.015},{"v":-84,"s":0.003},{"v":-78,"s":-0.005},{"v":-72,"s":0.023}],
"p22": [{"v":-280,"s":0.012},{"v":-274,"s":-0.015},{"v":-268,"s":-0.022},{"v":-262,"s":0.005},{"v":-256,"s":-0.008},{"v":-250,"s":0.011},{"v":-244,"s":0.008},{"v":-238,"s":-0.018},{"v":-232,"s":0.0},{"v":-226,"s":0.023},{"v":-220,"s":-0.015},{"v":-214,"s":-0.005},{"v":-208,"s":0.012},{"v":-202,"s":0.003},{"v":-196,"s":-0.01},{"v":-190,"s":0.008},{"v":-184,"s":-0.012},{"v":-178,"s":0.006},{"v":-172,"s":-0.012},{"v":-166,"s":0.01},{"v":-160,"s":-0.012},{"v":-154,"s":0.017},{"v":-148,"s":0.017},{"v":-142,"s":-0.003},{"v":-136,"s":0.006},{"v":-130,"s":0.017},{"v":-124,"s":0.018},{"v":-118,"s":0.037},{"v":-112,"s":0.037},{"v":-106,"s":0.056},{"v":-100,"s":0.033},{"v":-94,"s":0.027},{"v":-88,"s":0.042},{"v":-82,"s":0.035},{"v":-76,"s":0.035},{"v":-70,"s":0.058},{"v":-64,"s":0.02},{"v":-58,"s":-0.01},{"v":-52,"s":-0.008},{"v":-46,"s":-0.02},{"v":-40,"s":0.003},{"v":-34,"s":-0.005},{"v":-28,"s":-0.01},{"v":-22,"s":-0.02},{"v":-16,"s":0.005},{"v":-10,"s":0.012},{"v":-4,"s":-0.005},{"v":2,"s":0.012},{"v":8,"s":-0.004},{"v":14,"s":0.018},{"v":20,"s":0.015},{"v":26,"s":0.01},{"v":32,"s":-0.005},{"v":38,"s":0.012},{"v":44,"s":0.0},{"v":50,"s":0.008},{"v":56,"s":-0.017},{"v":62,"s":0.01},{"v":68,"s":0.018},{"v":74,"s":-0.005},{"v":80,"s":-0.008},{"v":86,"s":0.011},{"v":92,"s":0.0},{"v":98,"s":0.02},{"v":104,"s":0.005},{"v":110,"s":-0.005},{"v":116,"s":0.026}]
},
"concat": [
{"data":{"name":"p1"},"title":"OH358.083+0.137","width":261,"height":159,"layer":[
 {"mark":{"type":"line","interpolate":"step","clip":true},"encoding":{"x":{"field":"v","type":"quantitative","scale":{"domain":[-228,175],"nice":false,"zero":false},"axis":{"title":"vLSR [km/s]"}},"y":{"field":"s","type":"quantitative","scale":{"domain":[-0.068,0.224],"nice":false,"zero":false},"axis":{"title":"S [Jy]","values":[0,0.1,0.2]}}}},
 {"mark":{"type":"line","opacity":0},"encoding":{"x":{"field":"v","type":"quantitative","scale":{"domain":[-228,175],"nice":false,"zero":false},"axis":{"orient":"top","labels":false,"title":null}},"y":{"field":"s","type":"quantitative","scale":{"domain":[-0.068,0.224],"nice":false,"zero":false},"axis":{"orient":"right","labels":false,"title":null,"values":[0,0.1,0.2]}}}},
 {"mark":{"type":"line","opacity":0},"encoding":{"x":{"field":"v","type":"quantitative","scale":{"domain":[-228,175],"nice":false,"zero":false},"axis":{"orient":"bottom","labels":false,"title":null,"tickCount":20,"tickSize":-2.5}},"y":{"field":"s","type":"quantitative","scale":{"domain":[-0.068,0.224],"nice":false,"zero":false},"axis":{"orient":"left","labels":false,"title":null,"tickCount":15,"tickSize":-2.5}}}},
 {"mark":{"type":"line","opacity":0},"encoding":{"x":{"field":"v","type":"quantitative","scale":{"domain":[-228,175],"nice":false,"zero":false},"axis":{"orient":"top","labels":false,"title":null,"tickCount":20,"tickSize":-2.5}},"y":{"field":"s","type":"quantitative","scale":{"domain":[-0.068,0.224],"nice":false,"zero":false},"axis":{"orient":"right","labels":false,"title":null,"tickCount":15,"tickSize":-2.5}}}}
 ],"resolve":{"axis":{"x":"independent","y":"independent"}}},
{"data":{"name":"p2"},"title":"OH358.162+0.490","width":261,"height":159,"layer":[
 {"mark":{"type":"line","interpolate":"step","clip":true},"encoding":{"x":{"field":"v","type":"quantitative","scale":{"domain":[-208,210],"nice":false,"zero":false},"axis":{"title":"vLSR [km/s]"}},"y":{"field":"s","type":"quantitative","scale":{"domain":[-0.34,2.39],"nice":false,"zero":false},"axis":{"title":"S [Jy]","values":[0,1,2]}}}},
 {"mark":{"type":"line","opacity":0},"encoding":{"x":{"field":"v","type":"quantitative","scale":{"domain":[-208,210],"nice":false,"zero":false},"axis":{"orient":"top","labels":false,"title":null}},"y":{"field":"s","type":"quantitative","scale":{"domain":[-0.34,2.39],"nice":false,"zero":false},"axis":{"orient":"right","labels":false,"title":null,"values":[0,1,2]}}}},
 {"mark":{"type":"line","opacity":0},"encoding":{"x":{"field":"v","type":"quantitative","scale":{"domain":[-208,210],"nice":false,"zero":false},"axis":{"orient":"bottom","labels":false,"title":null,"tickCount":20,"tickSize":-2.5}},"y":{"field":"s","type":"quantitative","scale":{"domain":[-0.34,2.39],"nice":false,"zero":false},"axis":{"orient":"left","labels":false,"title":null,"tickCount":15,"tickSize":-2.5}}}},
 {"mark":{"type":"line","opacity":0},"encoding":{"x":{"field":"v","type":"quantitative","scale":{"domain":[-208,210],"nice":false,"zero":false},"axis":{"orient":"top","labels":false,"title":null,"tickCount":20,"tickSize":-2.5}},"y":{"field":"s","type":"quantitative","scale":{"domain":[-0.34,2.39],"nice":false,"zero":false},"axis":{"orient":"right","labels":false,"title":null,"tickCount":15,"tickSize":-2.5}}}}
 ],"resolve":{"axis":{"x":"independent","y":"independent"}}},
{"data":{"name":"p3"},"title":"OH358.235+0.115","width":261,"height":159,"layer":[
 {"mark":{"type":"line","interpolate":"step","clip":true},"encoding":{"x":{"field":"v","type":"quantitative","scale":{"domain":[-219,178],"nice":false,"zero":false},"axis":{"title":"vLSR [km/s]"}},"y":{"field":"s","type":"quantitative","scale":{"domain":[-0.031,0.068],"nice":false,"zero":false},"axis":{"title":"S [Jy]","values":[-0.02,0,0.02,0.04,0.06]}}}},
 {"mark":{"type":"line","opacity":0},"encoding":{"x":{"field":"v","type":"quantitative","scale":{"domain":[-219,178],"nice":false,"zero":false},"axis":{"orient":"top","labels":false,"title":null}},"y":{"field":"s","type":"quantitative","scale":{"domain":[-0.031,0.068],"nice":false,"zero":false},"axis":{"orient":"right","labels":false,"title":null,"values":[-0.02,0,0.02,0.04,0.06]}}}},
 {"mark":{"type":"line","opacity":0},"encoding":{"x":{"field":"v","type":"quantitative","scale":{"domain":[-219,178],"nice":false,"zero":false},"axis":{"orient":"bottom","labels":false,"title":null,"tickCount":20,"tickSize":-2.5}},"y":{"field":"s","type":"quantitative","scale":{"domain":[-0.031,0.068],"nice":false,"zero":false},"axis":{"orient":"left","labels":false,"title":null,"tickCount":15,"tickSize":-2.5}}}},
 {"mark":{"type":"line","opacity":0},"encoding":{"x":{"field":"v","type":"quantitative","scale":{"domain":[-219,178],"nice":false,"zero":false},"axis":{"orient":"top","labels":false,"title":null,"tickCount":20,"tickSize":-2.5}},"y":{"field":"s","type":"quantitative","scale":{"domain":[-0.031,0.068],"nice":false,"zero":false},"axis":{"orient":"right","labels":false,"title":null,"tickCount":15,"tickSize":-2.5}}}}
 ],"resolve":{"axis":{"x":"independent","y":"independent"}}},
{"data":{"name":"p4"},"title":"OH358.505+0.330","width":261,"height":159,"layer":[
 {"mark":{"type":"line","interpolate":"step","clip":true},"encoding":{"x":{"field":"v","type":"quantitative","scale":{"domain":[-228,179],"nice":false,"zero":false},"axis":{"title":"vLSR [km/s]"}},"y":{"field":"s","type":"quantitative","scale":{"domain":[-0.235,1.105],"nice":false,"zero":false},"axis":{"title":"S [Jy]","values":[0,0.5,1]}}}},
 {"mark":{"type":"line","opacity":0},"encoding":{"x":{"field":"v","type":"quantitative","scale":{"domain":[-228,179],"nice":false,"zero":false},"axis":{"orient":"top","labels":false,"title":null}},"y":{"field":"s","type":"quantitative","scale":{"domain":[-0.235,1.105],"nice":false,"zero":false},"axis":{"orient":"right","labels":false,"title":null,"values":[0,0.5,1]}}}},
 {"mark":{"type":"line","opacity":0},"encoding":{"x":{"field":"v","type":"quantitative","scale":{"domain":[-228,179],"nice":false,"zero":false},"axis":{"orient":"bottom","labels":false,"title":null,"tickCount":20,"tickSize":-2.5}},"y":{"field":"s","type":"quantitative","scale":{"domain":[-0.235,1.105],"nice":false,"zero":false},"axis":{"orient":"left","labels":false,"title":null,"tickCount":15,"tickSize":-2.5}}}},
 {"mark":{"type":"line","opacity":0},"encoding":{"x":{"field":"v","type":"quantitative","scale":{"domain":[-228,179],"nice":false,"zero":false},"axis":{"orient":"top","labels":false,"title":null,"tickCount":20,"tickSize":-2.5}},"y":{"field":"s","type":"quantitative","scale":{"domain":[-0.235,1.105],"nice":false,"zero":false},"axis":{"orient":"right","labels":false,"title":null,"tickCount":15,"tickSize":-2.5}}}}
 ],"resolve":{"axis":{"x":"independent","y":"independent"}}},
{"data":{"name":"p5"},"title":"OH359.140+1.137","width":261,"height":159,"layer":[
 {"mark":{"type":"line","interpolate":"step","clip":true},"encoding":{"x":{"field":"v","type":"quantitative","scale":{"domain":[-335,65],"nice":false,"zero":false},"axis":{"title":"vLSR [km/s]"}},"y":{"field":"s","type":"quantitative","scale":{"domain":[-0.063,0.206],"nice":false,"zero":false},"axis":{"title":"S [Jy]","values":[0,0.1,0.2]}}}},
 {"mark":{"type":"line","opacity":0},"encoding":{"x":{"field":"v","type":"quantitative","scale":{"domain":[-335,65],"nice":false,"zero":false},"axis":{"orient":"top","labels":false,"title":null}},"y":{"field":"s","type":"quantitative","scale":{"domain":[-0.063,0.206],"nice":false,"zero":false},"axis":{"orient":"right","labels":false,"title":null,"values":[0,0.1,0.2]}}}},
 {"mark":{"type":"line","opacity":0},"encoding":{"x":{"field":"v","type":"quantitative","scale":{"domain":[-335,65],"nice":false,"zero":false},"axis":{"orient":"bottom","labels":false,"title":null,"tickCount":20,"tickSize":-2.5}},"y":{"field":"s","type":"quantitative","scale":{"domain":[-0.063,0.206],"nice":false,"zero":false},"axis":{"orient":"left","labels":false,"title":null,"tickCount":15,"tickSize":-2.5}}}},
 {"mark":{"type":"line","opacity":0},"encoding":{"x":{"field":"v","type":"quantitative","scale":{"domain":[-335,65],"nice":false,"zero":false},"axis":{"orient":"top","labels":false,"title":null,"tickCount":20,"tickSize":-2.5}},"y":{"field":"s","type":"quantitative","scale":{"domain":[-0.063,0.206],"nice":false,"zero":false},"axis":{"orient":"right","labels":false,"title":null,"tickCount":15,"tickSize":-2.5}}}}
 ],"resolve":{"axis":{"x":"independent","y":"independent"}}},
{"data":{"name":"p6"},"title":"OH359.149-0.043","width":261,"height":159,"layer":[
 {"mark":{"type":"line","interpolate":"step","clip":true},"encoding":{"x":{"field":"v","type":"quantitative","scale":{"domain":[-160,250],"nice":false,"zero":false},"axis":{"title":"vLSR [km/s]"}},"y":{"field":"s","type":"quantitative","scale":{"domain":[-0.153,0.393],"nice":false,"zero":false},"axis":{"title":"S [Jy]","values":[0,0.2]}}}},
 {"mark":{"type":"line","opacity":0},"encoding":{"x":{"field":"v","type":"quantitative","scale":{"domain":[-160,250],"nice":false,"zero":false},"axis":{"orient":"top","labels":false,"title":null}},"y":{"field":"s","type":"quantitative","scale":{"domain":[-0.153,0.393],"nice":false,"zero":false},"axis":{"orient":"right","labels":false,"title":null,"values":[0,0.2]}}}},
 {"mark":{"type":"line","opacity":0},"encoding":{"x":{"field":"v","type":"quantitative","scale":{"domain":[-160,250],"nice":false,"zero":false},"axis":{"orient":"bottom","labels":false,"title":null,"tickCount":20,"tickSize":-2.5}},"y":{"field":"s","type":"quantitative","scale":{"domain":[-0.153,0.393],"nice":false,"zero":false},"axis":{"orient":"left","labels":false,"title":null,"tickCount":15,"tickSize":-2.5}}}},
 {"mark":{"type":"line","opacity":0},"encoding":{"x":{"field":"v","type":"quantitative","scale":{"domain":[-160,250],"nice":false,"zero":false},"axis":{"orient":"top","labels":false,"title":null,"tickCount":20,"tickSize":-2.5}},"y":{"field":"s","type":"quantitative","scale":{"domain":[-0.153,0.393],"nice":false,"zero":false},"axis":{"orient":"right","labels":false,"title":null,"tickCount":15,"tickSize":-2.5}}}}
 ],"resolve":{"axis":{"x":"independent","y":"independent"}}},
{"data":{"name":"p7"},"title":"OH359.220+0.163","width":261,"height":159,"layer":[
 {"mark":{"type":"line","interpolate":"step","clip":true},"encoding":{"x":{"field":"v","type":"quantitative","scale":{"domain":[-335,65],"nice":false,"zero":false},"axis":{"title":"vLSR [km/s]"}},"y":{"field":"s","type":"quantitative","scale":{"domain":[-0.118,0.556],"nice":false,"zero":false},"axis":{"title":"S [Jy]","values":[0,0.2,0.4]}}}},
 {"mark":{"type":"line","opacity":0},"encoding":{"x":{"field":"v","type":"quantitative","scale":{"domain":[-335,65],"nice":false,"zero":false},"axis":{"orient":"top","labels":false,"title":null}},"y":{"field":"s","type":"quantitative","scale":{"domain":[-0.118,0.556],"nice":false,"zero":false},"axis":{"orient":"right","labels":false,"title":null,"values":[0,0.2,0.4]}}}},
 {"mark":{"type":"line","opacity":0},"encoding":{"x":{"field":"v","type":"quantitative","scale":{"domain":[-335,65],"nice":false,"zero":false},"axis":{"orient":"bottom","labels":false,"title":null,"tickCount":20,"tickSize":-2.5}},"y":{"field":"s","type":"quantitative","scale":{"domain":[-0.118,0.556],"nice":false,"zero":false},"axis":{"orient":"left","labels":false,"title":null,"tickCount":15,"tickSize":-2.5}}}},
 {"mark":{"type":"line","opacity":0},"encoding":{"x":{"field":"v","type":"quantitative","scale":{"domain":[-335,65],"nice":false,"zero":false},"axis":{"orient":"top","labels":false,"title":null,"tickCount":20,"tickSize":-2.5}},"y":{"field":"s","type":"quantitative","scale":{"domain":[-0.118,0.556],"nice":false,"zero":false},"axis":{"orient":"right","labels":false,"title":null,"tickCount":15,"tickSize":-2.5}}}}
 ],"resolve":{"axis":{"x":"independent","y":"independent"}}},
{"data":{"name":"p8"},"title":"OH359.233-1.876","width":261,"height":159,"layer":[
 {"mark":{"type":"line","interpolate":"step","clip":true},"encoding":{"x":{"field":"v","type":"quantitative","scale":{"domain":[-215,185],"nice":false,"zero":false},"axis":{"title":"vLSR [km/s]"}},"y":{"field":"s","type":"quantitative","scale":{"domain":[-0.079,0.251],"nice":false,"zero":false},"axis":{"title":"S [Jy]","values":[0,0.1,0.2]}}}},
 {"mark":{"type":"line","opacity":0},"encoding":{"x":{"field":"v","type":"quantitative","scale":{"domain":[-215,185],"nice":false,"zero":false},"axis":{"orient":"top","labels":false,"title":null}},"y":{"field":"s","type":"quantitative","scale":{"domain":[-0.079,0.251],"nice":false,"zero":false},"axis":{"orient":"right","labels":false,"title":null,"values":[0,0.1,0.2]}}}},
 {"mark":{"type":"line","opacity":0},"encoding":{"x":{"field":"v","type":"quantitative","scale":{"domain":[-215,185],"nice":false,"zero":false},"axis":{"orient":"bottom","labels":false,"title":null,"tickCount":20,"tickSize":-2.5}},"y":{"field":"s","type":"quantitative","scale":{"domain":[-0.079,0.251],"nice":false,"zero":false},"axis":{"orient":"left","labels":false,"title":null,"tickCount":15,"tickSize":-2.5}}}},
 {"mark":{"type":"line","opacity":0},"encoding":{"x":{"field":"v","type":"quantitative","scale":{"domain":[-215,185],"nice":false,"zero":false},"axis":{"orient":"top","labels":false,"title":null,"tickCount":20,"tickSize":-2.5}},"y":{"field":"s","type":"quantitative","scale":{"domain":[-0.079,0.251],"nice":false,"zero":false},"axis":{"orient":"right","labels":false,"title":null,"tickCount":15,"tickSize":-2.5}}}}
 ],"resolve":{"axis":{"x":"independent","y":"independent"}}},
{"data":{"name":"p9"},"title":"OH359.467+1.029","width":261,"height":159,"layer":[
 {"mark":{"type":"line","interpolate":"step","clip":true},"encoding":{"x":{"field":"v","type":"quantitative","scale":{"domain":[-92,308],"nice":false,"zero":false},"axis":{"title":"vLSR [km/s]"}},"y":{"field":"s","type":"quantitative","scale":{"domain":[-0.054,0.11],"nice":false,"zero":false},"axis":{"title":"S [Jy]","values":[-0.05,0,0.05,0.1]}}}},
 {"mark":{"type":"line","opacity":0},"encoding":{"x":{"field":"v","type":"quantitative","scale":{"domain":[-92,308],"nice":false,"zero":false},"axis":{"orient":"top","labels":false,"title":null}},"y":{"field":"s","type":"quantitative","scale":{"domain":[-0.054,0.11],"nice":false,"zero":false},"axis":{"orient":"right","labels":false,"title":null,"values":[-0.05,0,0.05,0.1]}}}},
 {"mark":{"type":"line","opacity":0},"encoding":{"x":{"field":"v","type":"quantitative","scale":{"domain":[-92,308],"nice":false,"zero":false},"axis":{"orient":"bottom","labels":false,"title":null,"tickCount":20,"tickSize":-2.5}},"y":{"field":"s","type":"quantitative","scale":{"domain":[-0.054,0.11],"nice":false,"zero":false},"axis":{"orient":"left","labels":false,"title":null,"tickCount":15,"tickSize":-2.5}}}},
 {"mark":{"type":"line","opacity":0},"encoding":{"x":{"field":"v","type":"quantitative","scale":{"domain":[-92,308],"nice":false,"zero":false},"axis":{"orient":"top","labels":false,"title":null,"tickCount":20,"tickSize":-2.5}},"y":{"field":"s","type":"quantitative","scale":{"domain":[-0.054,0.11],"nice":false,"zero":false},"axis":{"orient":"right","labels":false,"title":null,"tickCount":15,"tickSize":-2.5}}}}
 ],"resolve":{"axis":{"x":"independent","y":"independent"}}},
{"data":{"name":"p10"},"title":{"text":"OH359.543-1.775","offset":-25},"width":261,"height":159,"layer":[
 {"mark":{"type":"line","interpolate":"step","clip":true},"encoding":{"x":{"field":"v","type":"quantitative","scale":{"domain":[-113,288],"nice":false,"zero":false},"axis":{"title":"vLSR [km/s]"}},"y":{"field":"s","type":"quantitative","scale":{"domain":[-0.048,0.159],"nice":false,"zero":false},"axis":{"title":"S [Jy]","values":[0,0.05,0.1,0.15]}}}},
 {"mark":{"type":"line","opacity":0},"encoding":{"x":{"field":"v","type":"quantitative","scale":{"domain":[-113,288],"nice":false,"zero":false},"axis":{"orient":"top","labels":false,"title":null}},"y":{"field":"s","type":"quantitative","scale":{"domain":[-0.048,0.159],"nice":false,"zero":false},"axis":{"orient":"right","labels":false,"title":null,"values":[0,0.05,0.1,0.15]}}}},
 {"mark":{"type":"line","opacity":0},"encoding":{"x":{"field":"v","type":"quantitative","scale":{"domain":[-113,288],"nice":false,"zero":false},"axis":{"orient":"bottom","labels":false,"title":null,"tickCount":20,"tickSize":-2.5}},"y":{"field":"s","type":"quantitative","scale":{"domain":[-0.048,0.159],"nice":false,"zero":false},"axis":{"orient":"left","labels":false,"title":null,"tickCount":15,"tickSize":-2.5}}}},
 {"mark":{"type":"line","opacity":0},"encoding":{"x":{"field":"v","type":"quantitative","scale":{"domain":[-113,288],"nice":false,"zero":false},"axis":{"orient":"top","labels":false,"title":null,"tickCount":20,"tickSize":-2.5}},"y":{"field":"s","type":"quantitative","scale":{"domain":[-0.048,0.159],"nice":false,"zero":false},"axis":{"orient":"right","labels":false,"title":null,"tickCount":15,"tickSize":-2.5}}}}
 ],"resolve":{"axis":{"x":"independent","y":"independent"}}},
{"data":{"name":"p11"},"title":{"text":"OH359.664+0.636","offset":-25},"width":261,"height":159,"layer":[
 {"mark":{"type":"line","interpolate":"step","clip":true},"encoding":{"x":{"field":"v","type":"quantitative","scale":{"domain":[-355,43],"nice":false,"zero":false},"axis":{"title":"vLSR [km/s]"}},"y":{"field":"s","type":"quantitative","scale":{"domain":[-0.038,0.104],"nice":false,"zero":false},"axis":{"title":"S [Jy]","values":[0,0.05,0.1]}}}},
 {"mark":{"type":"line","opacity":0},"encoding":{"x":{"field":"v","type":"quantitative","scale":{"domain":[-355,43],"nice":false,"zero":false},"axis":{"orient":"top","labels":false,"title":null}},"y":{"field":"s","type":"quantitative","scale":{"domain":[-0.038,0.104],"nice":false,"zero":false},"axis":{"orient":"right","labels":false,"title":null,"values":[0,0.05,0.1]}}}},
 {"mark":{"type":"line","opacity":0},"encoding":{"x":{"field":"v","type":"quantitative","scale":{"domain":[-355,43],"nice":false,"zero":false},"axis":{"orient":"bottom","labels":false,"title":null,"tickCount":20,"tickSize":-2.5}},"y":{"field":"s","type":"quantitative","scale":{"domain":[-0.038,0.104],"nice":false,"zero":false},"axis":{"orient":"left","labels":false,"title":null,"tickCount":15,"tickSize":-2.5}}}},
 {"mark":{"type":"line","opacity":0},"encoding":{"x":{"field":"v","type":"quantitative","scale":{"domain":[-355,43],"nice":false,"zero":false},"axis":{"orient":"top","labels":false,"title":null,"tickCount":20,"tickSize":-2.5}},"y":{"field":"s","type":"quantitative","scale":{"domain":[-0.038,0.104],"nice":false,"zero":false},"axis":{"orient":"right","labels":false,"title":null,"tickCount":15,"tickSize":-2.5}}}}
 ],"resolve":{"axis":{"x":"independent","y":"independent"}}},
{"data":{"name":"p12"},"title":{"text":"OH359.745-0.404","offset":-28},"width":261,"height":159,"layer":[
 {"mark":{"type":"line","interpolate":"step","clip":true},"encoding":{"x":{"field":"v","type":"quantitative","scale":{"domain":[-13,394],"nice":false,"zero":false},"axis":{"title":"vLSR [km/s]"}},"y":{"field":"s","type":"quantitative","scale":{"domain":[-0.067,0.156],"nice":false,"zero":false},"axis":{"title":"S [Jy]","values":[-0.05,0,0.05,0.1,0.15]}}}},
 {"mark":{"type":"line","opacity":0},"encoding":{"x":{"field":"v","type":"quantitative","scale":{"domain":[-13,394],"nice":false,"zero":false},"axis":{"orient":"top","labels":false,"title":null}},"y":{"field":"s","type":"quantitative","scale":{"domain":[-0.067,0.156],"nice":false,"zero":false},"axis":{"orient":"right","labels":false,"title":null,"values":[-0.05,0,0.05,0.1,0.15]}}}},
 {"mark":{"type":"line","opacity":0},"encoding":{"x":{"field":"v","type":"quantitative","scale":{"domain":[-13,394],"nice":false,"zero":false},"axis":{"orient":"bottom","labels":false,"title":null,"tickCount":20,"tickSize":-2.5}},"y":{"field":"s","type":"quantitative","scale":{"domain":[-0.067,0.156],"nice":false,"zero":false},"axis":{"orient":"left","labels":false,"title":null,"tickCount":15,"tickSize":-2.5}}}},
 {"mark":{"type":"line","opacity":0},"encoding":{"x":{"field":"v","type":"quantitative","scale":{"domain":[-13,394],"nice":false,"zero":false},"axis":{"orient":"top","labels":false,"title":null,"tickCount":20,"tickSize":-2.5}},"y":{"field":"s","type":"quantitative","scale":{"domain":[-0.067,0.156],"nice":false,"zero":false},"axis":{"orient":"right","labels":false,"title":null,"tickCount":15,"tickSize":-2.5}}}}
 ],"resolve":{"axis":{"x":"independent","y":"independent"}}},
{"data":{"name":"p13"},"title":{"text":"OH359.805+0.200","offset":-33},"width":261,"height":159,"layer":[
 {"mark":{"type":"line","interpolate":"step","clip":true},"encoding":{"x":{"field":"v","type":"quantitative","scale":{"domain":[-250,147],"nice":false,"zero":false},"axis":{"title":"vLSR [km/s]"}},"y":{"field":"s","type":"quantitative","scale":{"domain":[-0.038,0.06],"nice":false,"zero":false},"axis":{"title":"S [Jy]","values":[-0.02,0,0.02,0.04,0.06]}}}},
 {"mark":{"type":"line","opacity":0},"encoding":{"x":{"field":"v","type":"quantitative","scale":{"domain":[-250,147],"nice":false,"zero":false},"axis":{"orient":"top","labels":false,"title":null}},"y":{"field":"s","type":"quantitative","scale":{"domain":[-0.038,0.06],"nice":false,"zero":false},"axis":{"orient":"right","labels":false,"title":null,"values":[-0.02,0,0.02,0.04,0.06]}}}},
 {"mark":{"type":"line","opacity":0},"encoding":{"x":{"field":"v","type":"quantitative","scale":{"domain":[-250,147],"nice":false,"zero":false},"axis":{"orient":"bottom","labels":false,"title":null,"tickCount":20,"tickSize":-2.5}},"y":{"field":"s","type":"quantitative","scale":{"domain":[-0.038,0.06],"nice":false,"zero":false},"axis":{"orient":"left","labels":false,"title":null,"tickCount":15,"tickSize":-2.5}}}},
 {"mark":{"type":"line","opacity":0},"encoding":{"x":{"field":"v","type":"quantitative","scale":{"domain":[-250,147],"nice":false,"zero":false},"axis":{"orient":"top","labels":false,"title":null,"tickCount":20,"tickSize":-2.5}},"y":{"field":"s","type":"quantitative","scale":{"domain":[-0.038,0.06],"nice":false,"zero":false},"axis":{"orient":"right","labels":false,"title":null,"tickCount":15,"tickSize":-2.5}}}}
 ],"resolve":{"axis":{"x":"independent","y":"independent"}}},
{"data":{"name":"p14"},"title":{"text":"OH359.826+0.153","offset":-33},"width":261,"height":159,"layer":[
 {"mark":{"type":"line","interpolate":"step","clip":true},"encoding":{"x":{"field":"v","type":"quantitative","scale":{"domain":[-228,182],"nice":false,"zero":false},"axis":{"title":"vLSR [km/s]"}},"y":{"field":"s","type":"quantitative","scale":{"domain":[-0.03,0.06],"nice":false,"zero":false},"axis":{"title":"S [Jy]","values":[-0.02,0,0.02,0.04,0.06]}}}},
 {"mark":{"type":"line","opacity":0},"encoding":{"x":{"field":"v","type":"quantitative","scale":{"domain":[-228,182],"nice":false,"zero":false},"axis":{"orient":"top","labels":false,"title":null}},"y":{"field":"s","type":"quantitative","scale":{"domain":[-0.03,0.06],"nice":false,"zero":false},"axis":{"orient":"right","labels":false,"title":null,"values":[-0.02,0,0.02,0.04,0.06]}}}},
 {"mark":{"type":"line","opacity":0},"encoding":{"x":{"field":"v","type":"quantitative","scale":{"domain":[-228,182],"nice":false,"zero":false},"axis":{"orient":"bottom","labels":false,"title":null,"tickCount":20,"tickSize":-2.5}},"y":{"field":"s","type":"quantitative","scale":{"domain":[-0.03,0.06],"nice":false,"zero":false},"axis":{"orient":"left","labels":false,"title":null,"tickCount":15,"tickSize":-2.5}}}},
 {"mark":{"type":"line","opacity":0},"encoding":{"x":{"field":"v","type":"quantitative","scale":{"domain":[-228,182],"nice":false,"zero":false},"axis":{"orient":"top","labels":false,"title":null,"tickCount":20,"tickSize":-2.5}},"y":{"field":"s","type":"quantitative","scale":{"domain":[-0.03,0.06],"nice":false,"zero":false},"axis":{"orient":"right","labels":false,"title":null,"tickCount":15,"tickSize":-2.5}}}}
 ],"resolve":{"axis":{"x":"independent","y":"independent"}}},
{"data":{"name":"p15"},"title":"OH359.902+0.061","width":261,"height":159,"layer":[
 {"mark":{"type":"line","interpolate":"step","clip":true},"encoding":{"x":{"field":"v","type":"quantitative","scale":{"domain":[-330,70],"nice":false,"zero":false},"axis":{"title":"vLSR [km/s]"}},"y":{"field":"s","type":"quantitative","scale":{"domain":[-0.02,0.06],"nice":false,"zero":false},"axis":{"title":"S [Jy]","values":[0,0.02,0.04]}}}},
 {"mark":{"type":"line","opacity":0},"encoding":{"x":{"field":"v","type":"quantitative","scale":{"domain":[-330,70],"nice":false,"zero":false},"axis":{"orient":"top","labels":false,"title":null}},"y":{"field":"s","type":"quantitative","scale":{"domain":[-0.02,0.06],"nice":false,"zero":false},"axis":{"orient":"right","labels":false,"title":null,"values":[0,0.02,0.04]}}}},
 {"mark":{"type":"line","opacity":0},"encoding":{"x":{"field":"v","type":"quantitative","scale":{"domain":[-330,70],"nice":false,"zero":false},"axis":{"orient":"bottom","labels":false,"title":null,"tickCount":20,"tickSize":-2.5}},"y":{"field":"s","type":"quantitative","scale":{"domain":[-0.02,0.06],"nice":false,"zero":false},"axis":{"orient":"left","labels":false,"title":null,"tickCount":15,"tickSize":-2.5}}}},
 {"mark":{"type":"line","opacity":0},"encoding":{"x":{"field":"v","type":"quantitative","scale":{"domain":[-330,70],"nice":false,"zero":false},"axis":{"orient":"top","labels":false,"title":null,"tickCount":20,"tickSize":-2.5}},"y":{"field":"s","type":"quantitative","scale":{"domain":[-0.02,0.06],"nice":false,"zero":false},"axis":{"orient":"right","labels":false,"title":null,"tickCount":15,"tickSize":-2.5}}}}
 ],"resolve":{"axis":{"x":"independent","y":"independent"}}},
{"data":{"name":"p16"},"title":"OH0.173+0.211","width":261,"height":159,"layer":[
 {"mark":{"type":"line","interpolate":"step","clip":true},"encoding":{"x":{"field":"v","type":"quantitative","scale":{"domain":[-150,258],"nice":false,"zero":false},"axis":{"title":"vLSR [km/s]"}},"y":{"field":"s","type":"quantitative","scale":{"domain":[-0.246,0.477],"nice":false,"zero":false},"axis":{"title":"S [Jy]","values":[-0.2,0,0.2,0.4]}}}},
 {"mark":{"type":"line","opacity":0},"encoding":{"x":{"field":"v","type":"quantitative","scale":{"domain":[-150,258],"nice":false,"zero":false},"axis":{"orient":"top","labels":false,"title":null}},"y":{"field":"s","type":"quantitative","scale":{"domain":[-0.246,0.477],"nice":false,"zero":false},"axis":{"orient":"right","labels":false,"title":null,"values":[-0.2,0,0.2,0.4]}}}},
 {"mark":{"type":"line","opacity":0},"encoding":{"x":{"field":"v","type":"quantitative","scale":{"domain":[-150,258],"nice":false,"zero":false},"axis":{"orient":"bottom","labels":false,"title":null,"tickCount":20,"tickSize":-2.5}},"y":{"field":"s","type":"quantitative","scale":{"domain":[-0.246,0.477],"nice":false,"zero":false},"axis":{"orient":"left","labels":false,"title":null,"tickCount":15,"tickSize":-2.5}}}},
 {"mark":{"type":"line","opacity":0},"encoding":{"x":{"field":"v","type":"quantitative","scale":{"domain":[-150,258],"nice":false,"zero":false},"axis":{"orient":"top","labels":false,"title":null,"tickCount":20,"tickSize":-2.5}},"y":{"field":"s","type":"quantitative","scale":{"domain":[-0.246,0.477],"nice":false,"zero":false},"axis":{"orient":"right","labels":false,"title":null,"tickCount":15,"tickSize":-2.5}}}}
 ],"resolve":{"axis":{"x":"independent","y":"independent"}}},
{"data":{"name":"p17"},"title":"OH0.221+0.168","width":261,"height":159,"layer":[
 {"mark":{"type":"line","interpolate":"step","clip":true},"encoding":{"x":{"field":"v","type":"quantitative","scale":{"domain":[-130,259],"nice":false,"zero":false},"axis":{"title":"vLSR [km/s]"}},"y":{"field":"s","type":"quantitative","scale":{"domain":[-0.04,0.0816],"nice":false,"zero":false},"axis":{"title":"S [Jy]","values":[0,0.05]}}}},
 {"mark":{"type":"line","opacity":0},"encoding":{"x":{"field":"v","type":"quantitative","scale":{"domain":[-130,259],"nice":false,"zero":false},"axis":{"orient":"top","labels":false,"title":null}},"y":{"field":"s","type":"quantitative","scale":{"domain":[-0.04,0.0816],"nice":false,"zero":false},"axis":{"orient":"right","labels":false,"title":null,"values":[0,0.05]}}}},
 {"mark":{"type":"line","opacity":0},"encoding":{"x":{"field":"v","type":"quantitative","scale":{"domain":[-130,259],"nice":false,"zero":false},"axis":{"orient":"bottom","labels":false,"title":null,"tickCount":20,"tickSize":-2.5}},"y":{"field":"s","type":"quantitative","scale":{"domain":[-0.04,0.0816],"nice":false,"zero":false},"axis":{"orient":"left","labels":false,"title":null,"tickCount":15,"tickSize":-2.5}}}},
 {"mark":{"type":"line","opacity":0},"encoding":{"x":{"field":"v","type":"quantitative","scale":{"domain":[-130,259],"nice":false,"zero":false},"axis":{"orient":"top","labels":false,"title":null,"tickCount":20,"tickSize":-2.5}},"y":{"field":"s","type":"quantitative","scale":{"domain":[-0.04,0.0816],"nice":false,"zero":false},"axis":{"orient":"right","labels":false,"title":null,"tickCount":15,"tickSize":-2.5}}}}
 ],"resolve":{"axis":{"x":"independent","y":"independent"}}},
{"data":{"name":"p18"},"title":"OH0.548-0.059","width":261,"height":159,"layer":[
 {"mark":{"type":"line","interpolate":"step","clip":true},"encoding":{"x":{"field":"v","type":"quantitative","scale":{"domain":[-228,182],"nice":false,"zero":false},"axis":{"title":"vLSR [km/s]"}},"y":{"field":"s","type":"quantitative","scale":{"domain":[-0.091,0.246],"nice":false,"zero":false},"axis":{"title":"S [Jy]","values":[0,0.1,0.2]}}}},
 {"mark":{"type":"line","opacity":0},"encoding":{"x":{"field":"v","type":"quantitative","scale":{"domain":[-228,182],"nice":false,"zero":false},"axis":{"orient":"top","labels":false,"title":null}},"y":{"field":"s","type":"quantitative","scale":{"domain":[-0.091,0.246],"nice":false,"zero":false},"axis":{"orient":"right","labels":false,"title":null,"values":[0,0.1,0.2]}}}},
 {"mark":{"type":"line","opacity":0},"encoding":{"x":{"field":"v","type":"quantitative","scale":{"domain":[-228,182],"nice":false,"zero":false},"axis":{"orient":"bottom","labels":false,"title":null,"tickCount":20,"tickSize":-2.5}},"y":{"field":"s","type":"quantitative","scale":{"domain":[-0.091,0.246],"nice":false,"zero":false},"axis":{"orient":"left","labels":false,"title":null,"tickCount":15,"tickSize":-2.5}}}},
 {"mark":{"type":"line","opacity":0},"encoding":{"x":{"field":"v","type":"quantitative","scale":{"domain":[-228,182],"nice":false,"zero":false},"axis":{"orient":"top","labels":false,"title":null,"tickCount":20,"tickSize":-2.5}},"y":{"field":"s","type":"quantitative","scale":{"domain":[-0.091,0.246],"nice":false,"zero":false},"axis":{"orient":"right","labels":false,"title":null,"tickCount":15,"tickSize":-2.5}}}}
 ],"resolve":{"axis":{"x":"independent","y":"independent"}}},
{"data":{"name":"p19"},"title":"OH0.739+0.411","width":261,"height":159,"layer":[
 {"mark":{"type":"line","interpolate":"step","clip":true},"encoding":{"x":{"field":"v","type":"quantitative","scale":{"domain":[-225,180],"nice":false,"zero":false},"axis":{"title":"vLSR [km/s]"}},"y":{"field":"s","type":"quantitative","scale":{"domain":[-0.141,0.644],"nice":false,"zero":false},"axis":{"title":"S [Jy]","values":[0,0.2,0.4,0.6]}}}},
 {"mark":{"type":"line","opacity":0},"encoding":{"x":{"field":"v","type":"quantitative","scale":{"domain":[-225,180],"nice":false,"zero":false},"axis":{"orient":"top","labels":false,"title":null}},"y":{"field":"s","type":"quantitative","scale":{"domain":[-0.141,0.644],"nice":false,"zero":false},"axis":{"orient":"right","labels":false,"title":null,"values":[0,0.2,0.4,0.6]}}}},
 {"mark":{"type":"line","opacity":0},"encoding":{"x":{"field":"v","type":"quantitative","scale":{"domain":[-225,180],"nice":false,"zero":false},"axis":{"orient":"bottom","labels":false,"title":null,"tickCount":20,"tickSize":-2.5}},"y":{"field":"s","type":"quantitative","scale":{"domain":[-0.141,0.644],"nice":false,"zero":false},"axis":{"orient":"left","labels":false,"title":null,"tickCount":15,"tickSize":-2.5}}}},
 {"mark":{"type":"line","opacity":0},"encoding":{"x":{"field":"v","type":"quantitative","scale":{"domain":[-225,180],"nice":false,"zero":false},"axis":{"orient":"top","labels":false,"title":null,"tickCount":20,"tickSize":-2.5}},"y":{"field":"s","type":"quantitative","scale":{"domain":[-0.141,0.644],"nice":false,"zero":false},"axis":{"orient":"right","labels":false,"title":null,"tickCount":15,"tickSize":-2.5}}}}
 ],"resolve":{"axis":{"x":"independent","y":"independent"}}},
{"data":{"name":"p20"},"title":"OH1.095-0.832","width":261,"height":159,"layer":[
 {"mark":{"type":"line","interpolate":"step","clip":true},"encoding":{"x":{"field":"v","type":"quantitative","scale":{"domain":[-200,210],"nice":false,"zero":false},"axis":{"title":"vLSR [km/s]"}},"y":{"field":"s","type":"quantitative","scale":{"domain":[-0.335,1.12],"nice":false,"zero":false},"axis":{"title":"S [Jy]","values":[0,0.5,1]}}}},
 {"mark":{"type":"line","opacity":0},"encoding":{"x":{"field":"v","type":"quantitative","scale":{"domain":[-200,210],"nice":false,"zero":false},"axis":{"orient":"top","labels":false,"title":null}},"y":{"field":"s","type":"quantitative","scale":{"domain":[-0.335,1.12],"nice":false,"zero":false},"axis":{"orient":"right","labels":false,"title":null,"values":[0,0.5,1]}}}},
 {"mark":{"type":"line","opacity":0},"encoding":{"x":{"field":"v","type":"quantitative","scale":{"domain":[-200,210],"nice":false,"zero":false},"axis":{"orient":"bottom","labels":false,"title":null,"tickCount":20,"tickSize":-2.5}},"y":{"field":"s","type":"quantitative","scale":{"domain":[-0.335,1.12],"nice":false,"zero":false},"axis":{"orient":"left","labels":false,"title":null,"tickCount":15,"tickSize":-2.5}}}},
 {"mark":{"type":"line","opacity":0},"encoding":{"x":{"field":"v","type":"quantitative","scale":{"domain":[-200,210],"nice":false,"zero":false},"axis":{"orient":"top","labels":false,"title":null,"tickCount":20,"tickSize":-2.5}},"y":{"field":"s","type":"quantitative","scale":{"domain":[-0.335,1.12],"nice":false,"zero":false},"axis":{"orient":"right","labels":false,"title":null,"tickCount":15,"tickSize":-2.5}}}}
 ],"resolve":{"axis":{"x":"independent","y":"independent"}}},
{"data":{"name":"p21"},"title":"OH1.221+0.294","width":261,"height":159,"layer":[
 {"mark":{"type":"line","interpolate":"step","clip":true},"encoding":{"x":{"field":"v","type":"quantitative","scale":{"domain":[-470,-68],"nice":false,"zero":false},"axis":{"title":"vLSR [km/s]"}},"y":{"field":"s","type":"quantitative","scale":{"domain":[-0.049,0.164],"nice":false,"zero":false},"axis":{"title":"S [Jy]","values":[0,0.05,0.1,0.15]}}}},
 {"mark":{"type":"line","opacity":0},"encoding":{"x":{"field":"v","type":"quantitative","scale":{"domain":[-470,-68],"nice":false,"zero":false},"axis":{"orient":"top","labels":false,"title":null}},"y":{"field":"s","type":"quantitative","scale":{"domain":[-0.049,0.164],"nice":false,"zero":false},"axis":{"orient":"right","labels":false,"title":null,"values":[0,0.05,0.1,0.15]}}}},
 {"mark":{"type":"line","opacity":0},"encoding":{"x":{"field":"v","type":"quantitative","scale":{"domain":[-470,-68],"nice":false,"zero":false},"axis":{"orient":"bottom","labels":false,"title":null,"tickCount":20,"tickSize":-2.5}},"y":{"field":"s","type":"quantitative","scale":{"domain":[-0.049,0.164],"nice":false,"zero":false},"axis":{"orient":"left","labels":false,"title":null,"tickCount":15,"tickSize":-2.5}}}},
 {"mark":{"type":"line","opacity":0},"encoding":{"x":{"field":"v","type":"quantitative","scale":{"domain":[-470,-68],"nice":false,"zero":false},"axis":{"orient":"top","labels":false,"title":null,"tickCount":20,"tickSize":-2.5}},"y":{"field":"s","type":"quantitative","scale":{"domain":[-0.049,0.164],"nice":false,"zero":false},"axis":{"orient":"right","labels":false,"title":null,"tickCount":15,"tickSize":-2.5}}}}
 ],"resolve":{"axis":{"x":"independent","y":"independent"}}},
{"data":{"name":"p22"},"title":"OH1.628+0.617","width":261,"height":159,"layer":[
 {"mark":{"type":"line","interpolate":"step","clip":true},"encoding":{"x":{"field":"v","type":"quantitative","scale":{"domain":[-282,120],"nice":false,"zero":false},"axis":{"title":"vLSR [km/s]"}},"y":{"field":"s","type":"quantitative","scale":{"domain":[-0.037,0.0617],"nice":false,"zero":false},"axis":{"title":"S [Jy]","values":[0,0.05]}}}},
 {"mark":{"type":"line","opacity":0},"encoding":{"x":{"field":"v","type":"quantitative","scale":{"domain":[-282,120],"nice":false,"zero":false},"axis":{"orient":"top","labels":false,"title":null}},"y":{"field":"s","type":"quantitative","scale":{"domain":[-0.037,0.0617],"nice":false,"zero":false},"axis":{"orient":"right","labels":false,"title":null,"values":[0,0.05]}}}},
 {"mark":{"type":"line","opacity":0},"encoding":{"x":{"field":"v","type":"quantitative","scale":{"domain":[-282,120],"nice":false,"zero":false},"axis":{"orient":"bottom","labels":false,"title":null,"tickCount":20,"tickSize":-2.5}},"y":{"field":"s","type":"quantitative","scale":{"domain":[-0.037,0.0617],"nice":false,"zero":false},"axis":{"orient":"left","labels":false,"title":null,"tickCount":15,"tickSize":-2.5}}}},
 {"mark":{"type":"line","opacity":0},"encoding":{"x":{"field":"v","type":"quantitative","scale":{"domain":[-282,120],"nice":false,"zero":false},"axis":{"orient":"top","labels":false,"title":null,"tickCount":20,"tickSize":-2.5}},"y":{"field":"s","type":"quantitative","scale":{"domain":[-0.037,0.0617],"nice":false,"zero":false},"axis":{"orient":"right","labels":false,"title":null,"tickCount":15,"tickSize":-2.5}}}}
 ],"resolve":{"axis":{"x":"independent","y":"independent"}}}
]
}
